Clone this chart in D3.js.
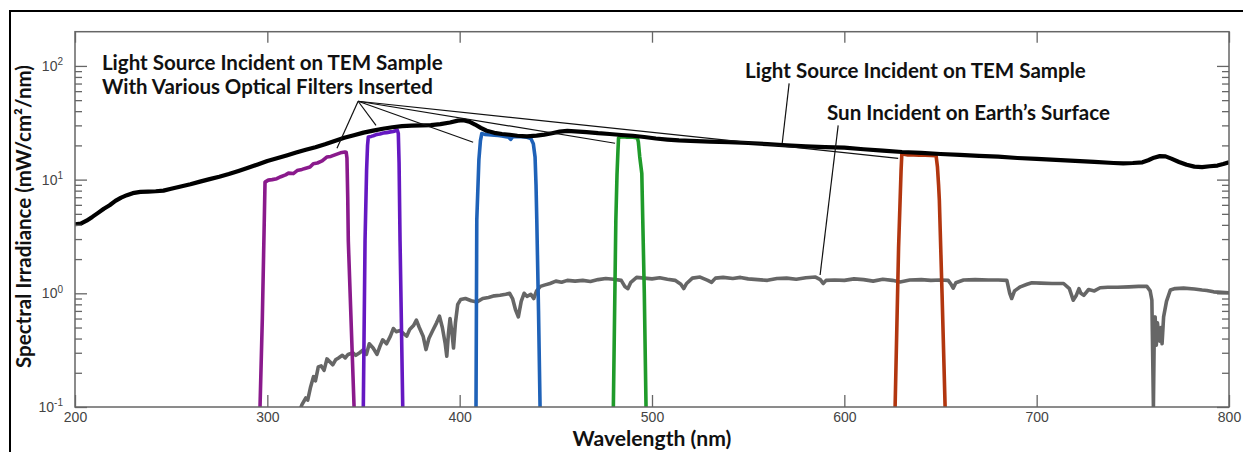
<!DOCTYPE html>
<html>
<head>
<meta charset="utf-8">
<script src="https://cdn.jsdelivr.net/npm/d3@7"></script>
<style>
  body { margin: 0; background: #fff; }
  svg { display: block; }
  .tick line { stroke: #666; stroke-width: 1.3; }
  .tick text { fill: #444; font-family: "Liberation Sans", Arial, sans-serif; font-size: 14px; }
  .title { font-family: Lato, "Open Sans", sans-serif; font-weight: 700; fill: #111; }
</style>
</head>
<body>
<svg id="chart" width="1243" height="452"></svg>
<script>
// lamp spectrum (light source incident on TEM sample)
var lampWl = [200,203,206,209,212,215,218,221,224,227,230,234,238,242,246,250,255,260,265,270,275,280,285,290,295,
  300,305,310,315,320,325,330,335,340,345,350,355,360,365,370,375,380,385,390,395,399,402,405,408,411,414,418,422,426,
  430,435,440,444,448,452,456,460,466,472,478,484,490,496,502,508,514,520,530,540,550,560,570,580,590,600,610,620,630,
  640,650,660,670,680,690,700,710,720,730,740,745,750,755,758,761,764,767,770,774,778,782,786,790,794,797,800];
var lampVal = [4.05,4.1,4.35,4.7,5.1,5.55,5.95,6.5,6.95,7.3,7.6,7.8,7.85,7.9,8.0,8.3,8.7,9.1,9.6,10.1,10.6,11.2,11.9,12.7,13.6,
  14.6,15.4,16.3,17.3,18.3,19.3,20.5,21.9,23.3,24.6,25.9,27.0,28.0,28.9,29.5,29.8,30.0,30.2,30.8,31.8,33.0,33.3,32.3,30.5,28.5,
  26.9,25.8,25.2,24.8,24.3,24.0,24.4,24.9,25.6,26.4,26.8,26.6,26.2,25.6,25.2,24.7,24.3,23.7,23.0,22.5,22.1,21.9,21.6,21.4,
  21.0,20.5,20.0,19.6,19.3,19.1,18.5,18.0,17.5,17.2,16.8,16.5,16.2,15.9,15.5,15.2,14.9,14.6,14.3,14.0,13.9,14.0,14.2,14.8,
  15.6,16.1,16.0,15.3,14.3,13.5,13.0,12.9,13.1,13.3,13.7,14.2];

// sun spectrum at earth's surface
var sunWl = [316.5,318,320,321,322.5,324,325,326.5,328,329.5,331,332.5,334,335.5,337,339,340.5,342,344.5,346,348,350,351.5,
  353,355,357,358.5,360,362,364,365.5,367,369,371,372.5,374,376,377.5,379,381,382.5,384,386,388,389.5,391,392.5,393.3,394.2,
  395,396,396.8,397.8,399,400.5,403,406,409,412,415,418,421,424,426,427.5,429,430.5,432,433.5,435,437,438.5,440,442,444,447,
  450,453,456,460,464,468,472,476,480,484,486,487.5,489,492,496,500,504,508,512,515,516.5,518,521,525,529,531,533,537,542,
  546,550,555,560,565,570,575,580,585,587.5,589,590.5,595,600,605,610,615,620,625,629,634,640,645,650,654,655.5,656.6,658,
  662,668,675,680,684.5,686,687,688.5,691.5,695,697.5,702,708,714,717,719,720.5,722,723,724.5,727,730,733,737,742,748,753,
  757.3,759,759.9,760.3,760.7,761.2,761.6,762.2,762.8,763.3,764,764.6,765.2,766,767.5,769.5,772,776.4,782,786,788.5,792,796,800];
var sunVal = [0.09,0.105,0.12,0.115,0.15,0.185,0.17,0.225,0.23,0.21,0.265,0.25,0.235,0.26,0.27,0.285,0.27,0.29,0.3,0.285,
  0.30,0.32,0.29,0.36,0.33,0.29,0.34,0.39,0.36,0.42,0.49,0.46,0.47,0.44,0.42,0.48,0.52,0.58,0.50,0.42,0.32,0.40,0.47,0.55,
  0.63,0.50,0.36,0.28,0.45,0.60,0.45,0.33,0.55,0.80,0.88,0.90,0.86,0.84,0.90,0.92,0.95,0.96,0.98,1.0,0.90,0.72,0.62,0.85,
  1.0,0.94,0.98,0.90,1.05,1.15,1.18,1.22,1.28,1.25,1.30,1.28,1.30,1.27,1.32,1.35,1.33,1.30,1.14,1.10,1.25,1.38,1.36,1.34,
  1.37,1.33,1.30,1.20,1.10,1.22,1.36,1.39,1.30,1.25,1.36,1.38,1.35,1.38,1.34,1.32,1.30,1.35,1.36,1.33,1.37,1.39,1.32,1.22,
  1.30,1.31,1.30,1.34,1.32,1.28,1.33,1.30,1.26,1.31,1.32,1.30,1.31,1.30,1.20,1.11,1.24,1.31,1.32,1.31,1.31,1.30,1.00,0.90,
  1.05,1.14,1.20,1.24,1.23,1.22,1.22,1.10,0.87,0.95,1.10,1.0,0.96,1.08,1.05,1.12,1.13,1.13,1.14,1.15,1.15,1.05,0.87,0.3,
  0.1,0.55,0.62,0.35,0.55,0.45,0.38,0.50,0.36,0.62,0.85,1.07,1.10,1.11,1.09,1.07,1.06,1.03,1.02,1.01];

// filtered lamp spectra
var purpleWl = [295.4,296.2,297.4,298.3,298.8,300.5,302.5,304.9,307,309.5,311,313.5,315.5,318,320,322.2,323.9,326,328.5,
  330.9,333,335.5,338,340.3,341.0,341.4,341.8,342.1,343.5,345.1,345.8];
var purpleVal = [0.05,0.1,0.6,3.5,9.5,9.9,10.0,10.2,10.6,11.0,11.4,11.3,12.0,12.3,12.6,12.9,13.8,14.0,14.6,15.8,16.0,16.6,
  17.2,17.5,17.4,15.5,7.0,2.9,0.6,0.1,0.05];
var violetWl = [349.4,349.9,350.8,351.6,352.1,352.5,354,355.1,357,358.5,360.3,362,364,365.5,367,367.6,368.1,368.5,369.0,
  369.7,370.4,370.9];
var violetVal = [0.05,0.1,2.9,12,20,23.7,24.0,24.3,25.0,25.2,25.7,25.9,26.3,26.5,27.0,27.2,25.5,14,2.9,0.55,0.1,0.05];
var blueWl = [408.2,408.5,408.9,410.0,410.8,411.5,413,415,418,420,422,424,425.5,426.5,427.5,429,432,435,437,438.3,439.2,
  439.7,440.1,441.0,441.8,442.2];
var blueVal = [0.05,0.1,4.4,15,22,25.4,25.0,24.8,24.6,24.5,24.2,23.8,23.6,22.6,23.8,23.9,23.8,23.6,23.0,20.7,15.8,9.0,4.4,
  0.7,0.1,0.05];
var greenWl = [479.6,479.9,481.2,481.8,482.3,482.6,483.5,485,487,489,491,492.4,492.9,493.6,494.7,495.2,496.0,496.9,497.3];
var greenVal = [0.05,0.1,4.4,11,18,23.2,23.7,23.8,23.6,23.7,23.5,23.2,21.5,16,11.3,4.4,1.0,0.1,0.05];
var redWl = [626.0,626.4,628.2,629.0,629.5,629.9,631,633,636,639,642,645,647.7,648.4,649.0,649.4,650.8,652.4,652.8];
var redVal = [0.05,0.1,2.5,6.6,12,16.9,16.7,16.5,16.5,16.4,16.4,16.3,16.2,13,9,6.6,1.0,0.1,0.05];

var filterNames = ["purple","violet","blue","green","red"];
var filterColors = ["#8a1a8c","#6518c2","#1f62b8","#1f9b2a","#b2360f"];

// axis ticks
var xTicks = [200,300,400,500,600,700,800];
var yTicks = [0.1,1,10,100];
var yTickExp = ["-1","0","1","2"];
var yMinor = [0.2,0.3,0.4,0.5,0.6,0.7,0.8,0.9,2,3,4,5,6,7,8,9,20,30,40,50,60,70,80,90];

// annotation leaders [wl, value]
var filterLeadFrom = [347.2,48.9];
var filterLeadTo = [[336.2,18.9],[356.5,30.0],[407.0,21.3],[480.8,20.9],[628.0,15.4]];
var lampLead = [[571.3,70.3],[567.7,20.9]];
var sunLead = [[596.8,30.0],[587.4,1.45]];

var svg = d3.select("#chart");
var W = 1243, H = 452;
var margin = {left: 75, right: W - 1229, top: 31.7, bottom: H - 407};
var pw = W - margin.left - margin.right, ph = H - margin.top - margin.bottom;

var x = d3.scaleLinear().domain([200,800]).range([margin.left, margin.left + pw]);
var y = d3.scaleLog().domain([0.1,200]).range([margin.top + ph, margin.top]);

// outer frame of the figure
svg.append("path").attr("d", "M10,452V11H1243").attr("fill","none").attr("stroke","#000").attr("stroke-width",2);

svg.append("defs").append("clipPath").attr("id","plotclip")
  .append("rect").attr("x", margin.left).attr("y", margin.top).attr("width", pw).attr("height", ph);

var plot = svg.append("g").attr("clip-path","url(#plotclip)");

function pairs(wl, val){
  return wl.map(function(d,i){ return [d, val[i]]; });
}
var line = d3.line().x(function(d){ return x(d[0]); }).y(function(d){ return y(d[1]); });

plot.append("path").datum(pairs(sunWl, sunVal))
  .attr("d", line).attr("fill","none").attr("stroke","#666").attr("stroke-width",3.6).attr("stroke-linejoin","round");

var filterData = [pairs(purpleWl,purpleVal), pairs(violetWl,violetVal), pairs(blueWl,blueVal),
  pairs(greenWl,greenVal), pairs(redWl,redVal)];
plot.selectAll("path.filter").data(filterData).enter().append("path")
  .attr("class", function(d,i){ return "filter " + filterNames[i]; })
  .attr("d", line).attr("fill","none")
  .attr("stroke", function(d,i){ return filterColors[i]; })
  .attr("stroke-width",3.6).attr("stroke-linejoin","round");

plot.append("path").datum(pairs(lampWl, lampVal))
  .attr("d", line).attr("fill","none").attr("stroke","#000").attr("stroke-width",4.2).attr("stroke-linejoin","round");

// axes, ticks pointing inward
var gx = svg.append("g").attr("transform","translate(0," + (margin.top + ph) + ")")
  .call(d3.axisBottom(x).tickValues(xTicks).tickSize(-12).tickPadding(5).tickFormat(d3.format("d")));
var gxt = svg.append("g").attr("transform","translate(0," + margin.top + ")")
  .call(d3.axisTop(x).tickValues(xTicks).tickSize(-11).tickFormat(""));
var gy = svg.append("g").attr("transform","translate(" + margin.left + ",0)")
  .call(d3.axisLeft(y).tickValues(yTicks).tickSize(-12).tickPadding(12).tickFormat(function(){ return ""; }));
var gym = svg.append("g").attr("transform","translate(" + margin.left + ",0)")
  .call(d3.axisLeft(y).tickValues(yMinor).tickSize(-7).tickFormat(""));
var gyr = svg.append("g").attr("transform","translate(" + (margin.left + pw) + ",0)")
  .call(d3.axisRight(y).tickValues(yTicks).tickSize(-12).tickFormat(""));
var gyrm = svg.append("g").attr("transform","translate(" + (margin.left + pw) + ",0)")
  .call(d3.axisRight(y).tickValues(yMinor).tickSize(-7).tickFormat(""));
[gx,gxt,gy,gym,gyr,gyrm].forEach(function(g){ g.select(".domain").remove(); });

// 10^n labels
gy.selectAll(".tick text").each(function(d,i){
  var t = d3.select(this);
  t.text("10");
  t.append("tspan").attr("dy","-0.55em").style("font-size","10px").text(yTickExp[i]);
});

svg.append("rect").attr("x", margin.left).attr("y", margin.top).attr("width", pw).attr("height", ph)
  .attr("fill","none").attr("stroke","#666").attr("stroke-width",1.5);

// leader lines
var lead = svg.append("g").attr("stroke","#111").attr("stroke-width",1.2).attr("fill","none");
filterLeadTo.forEach(function(p){
  lead.append("line").attr("x1", x(filterLeadFrom[0])).attr("y1", y(filterLeadFrom[1]))
    .attr("x2", x(p[0])).attr("y2", y(p[1]));
});
[lampLead, sunLead].forEach(function(l){
  lead.append("line").attr("x1", x(l[0][0])).attr("y1", y(l[0][1])).attr("x2", x(l[1][0])).attr("y2", y(l[1][1]));
});

function fitWidth(sel, w){
  var len = sel.node().getComputedTextLength();
  var fs = parseFloat(sel.style("font-size"));
  sel.style("font-size", (fs * w / len) + "px");
  return sel;
}

// annotation texts
var labels = [
  {text:"Light Source Incident on TEM Sample", wl:214, v:91.4, w:341},
  {text:"With Various Optical Filters Inserted", wl:214, v:56.3, w:331},
  {text:"Light Source Incident on TEM Sample", wl:548.4, v:77.8, w:341},
  {text:"Sun Incident on Earth\u2019s Surface", wl:591, v:33.3, w:283}
];
labels.forEach(function(l){
  var t = svg.append("text").attr("class","title").attr("x", x(l.wl)).attr("y", y(l.v))
    .style("font-size","16px").text(l.text);
  fitWidth(t, l.w);
});

// axis titles
fitWidth(svg.append("text").attr("class","title").attr("x", margin.left + pw/2).attr("y", 446)
  .attr("text-anchor","middle").style("font-size","16px").text("Wavelength (nm)"), 159);
fitWidth(svg.append("text").attr("class","title").attr("transform","translate(31,216.5) rotate(-90)")
  .attr("text-anchor","middle").style("font-size","16px").text("Spectral Irradiance (mW/cm\u00b2/nm)"), 303);
</script>
</body>
</html>
